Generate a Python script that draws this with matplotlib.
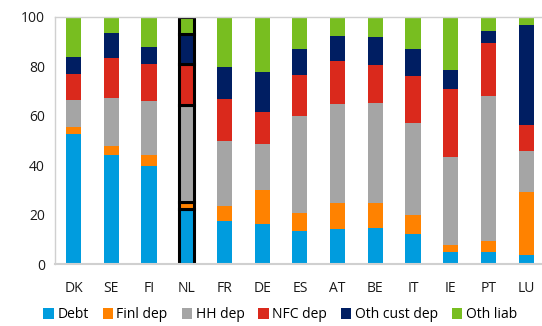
#   Stacked funding structure by country
import matplotlib
matplotlib.use("Agg")
import numpy as np
import matplotlib.pyplot as plt

plt.rcParams['font.family'] = ['Open Sans', 'DejaVu Sans']

#----------------
# data (cumulative tops, % of liabilities)
#----------------
countries = ["DK", "SE", "FI", "NL", "FR", "DE", "ES", "AT", "BE", "IT", "IE", "PT", "LU"]
series = ["Debt", "Finl dep", "HH dep", "NFC dep", "Oth cust dep", "Oth liab"]
colors = ["#009CDE", "#FF8200", "#A5A5A5", "#DA291C", "#001E62", "#78BE20"]

debt_top     = [52.8, 44.0, 39.8, 22.4, 17.6, 16.1, 13.3, 14.1, 14.4, 12.1,  4.7,  5.0,  3.5]
finl_top     = [55.6, 47.7, 44.0, 25.0, 23.4, 29.9, 20.7, 24.8, 24.9, 19.8,  7.6,  9.3, 29.1]
hh_top       = [66.4, 67.1, 66.0, 64.5, 49.6, 48.4, 59.9, 64.6, 65.0, 57.0, 43.4, 68.0, 45.7]
nfc_top      = [77.0, 83.2, 81.0, 80.8, 66.7, 61.4, 76.4, 82.0, 80.4, 76.2, 70.9, 89.6, 56.1]
othcust_top  = [83.7, 93.5, 87.7, 92.9, 79.9, 77.8, 87.1, 92.4, 91.9, 87.1, 78.7, 94.2, 96.6]
othliab_top  = [100.0] * 13

highlight = "NL"

#-------------------------------
# MAIN
#-------------------------------
tops = np.array([debt_top, finl_top, hh_top, nfc_top, othcust_top, othliab_top])
bottoms = np.vstack([np.zeros(len(countries)), tops[:-1]])
heights = tops - bottoms

fig = plt.figure(figsize=(5.42, 3.26), dpi=100)
ax = fig.add_axes([0.101, 0.19, 0.899, 0.758])

x = np.arange(len(countries))
hi = countries.index(highlight)
for k in range(len(series)):
    bars = ax.bar(x, heights[k], bottom=bottoms[k], width=0.4,
                  color=colors[k], label=series[k], zorder=2)
    bars[hi].set_edgecolor("black")
    bars[hi].set_linewidth(2.2)

ax.set_xlim(-0.5, 12.42)
ax.set_ylim(0, 100)
ax.set_yticks(range(0, 101, 20))
ax.set_xticks(x)
ax.set_xticklabels(countries)
ax.tick_params(axis="x", length=0, pad=12, labelsize=10, colors="#1a1a1a")
ax.tick_params(axis="y", length=0, pad=7, labelsize=10, colors="#1a1a1a")

for s in ["top", "left", "bottom"]:
    ax.spines[s].set_color("#d0d0d0")
    ax.spines[s].set_linewidth(1.0)
ax.spines["bottom"].set_linewidth(1.5)
ax.spines["right"].set_visible(False)

fig.legend(loc="center", bbox_to_anchor=(0.517, 0.034), ncol=6, frameon=False,
           fontsize=10, handlelength=0.75, handleheight=0.75, handletextpad=0.25,
           columnspacing=1.0, borderpad=0)

fig.savefig("out.png", dpi=100)
